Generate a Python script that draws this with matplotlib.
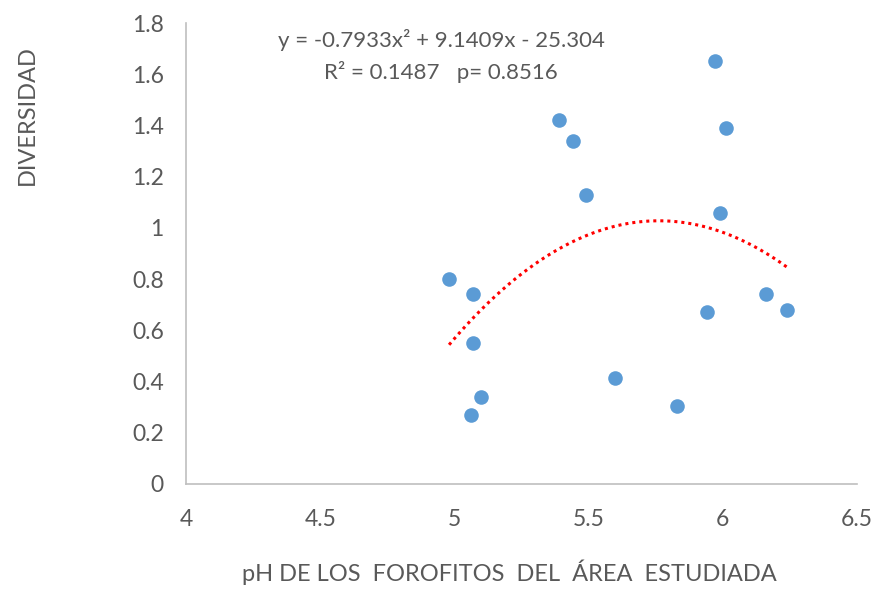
import matplotlib
matplotlib.use('Agg')
import matplotlib.pyplot as plt
import numpy as np

# datos
ph = [4.98, 5.07, 5.07, 5.10, 5.06, 5.39, 5.44, 5.49, 5.60, 5.83, 5.94, 5.97, 5.99, 6.01, 6.16, 6.24]
diversidad = [0.80, 0.74, 0.55, 0.34, 0.27, 1.42, 1.34, 1.13, 0.415, 0.305, 0.67, 1.65, 1.06, 1.39, 0.74, 0.68]
coef = [-0.7933, 9.1409, -25.304]
eq_text = 'y = -0.7933x² + 9.1409x - 25.304'
r2_text = 'R² = 0.1487   p= 0.8516'
x_ticks = [4, 4.5, 5, 5.5, 6, 6.5]
y_ticks = [0, 0.2, 0.4, 0.6, 0.8, 1, 1.2, 1.4, 1.6, 1.8]

gris = '#595959'
plt.rcParams['font.family'] = ['Lato', 'DejaVu Sans']

fig = plt.figure(figsize=(8.83, 5.9), dpi=100)
ax = fig.add_axes([0.2107, 0.1797, 0.7599, 0.7813])

ax.scatter(ph, diversidad, s=110, color='#5B9BD5', zorder=3, linewidths=0)

# linea de tendencia polinomica
xt = np.linspace(min(ph), max(ph), 200)
ax.plot(xt, np.polyval(coef, xt), color='#FF0000', lw=2.2, linestyle=(0, (1, 1.3)), zorder=2)

ax.set_xlim(4, 6.5)
ax.set_ylim(0, 1.8)
ax.set_xticks(x_ticks)
ax.set_xticklabels(['4', '4.5', '5', '5.5', '6', '6.5'])
ax.set_yticks(y_ticks)
ax.set_yticklabels(['0', '0.2', '0.4', '0.6', '0.8', '1', '1.2', '1.4', '1.6', '1.8'])
ax.tick_params(length=0, labelsize=16.5, colors=gris)
ax.tick_params(axis='x', pad=18)
ax.tick_params(axis='y', pad=16)

for s in ['top', 'right']:
    ax.spines[s].set_visible(False)
for s in ['left', 'bottom']:
    ax.spines[s].set_color('#BFBFBF')
    ax.spines[s].set_linewidth(1.2)

fig.text(441 / 883, 1 - 40 / 590, eq_text, ha='center', va='center', fontsize=16, color=gris)
fig.text(441 / 883, 1 - 72 / 590, r2_text, ha='center', va='center', fontsize=16, color=gris)

fig.text(509 / 883, 1 - 572 / 590, 'pH DE LOS  FOROFITOS  DEL  ÁREA  ESTUDIADA',
         ha='center', va='center', fontsize=17, color=gris)
fig.text(27 / 883, 1 - 115 / 590, 'DIVERSIDAD', rotation=90,
         ha='center', va='center', fontsize=17, color=gris)

fig.savefig('out.png', dpi=100)
plt.close(fig)
